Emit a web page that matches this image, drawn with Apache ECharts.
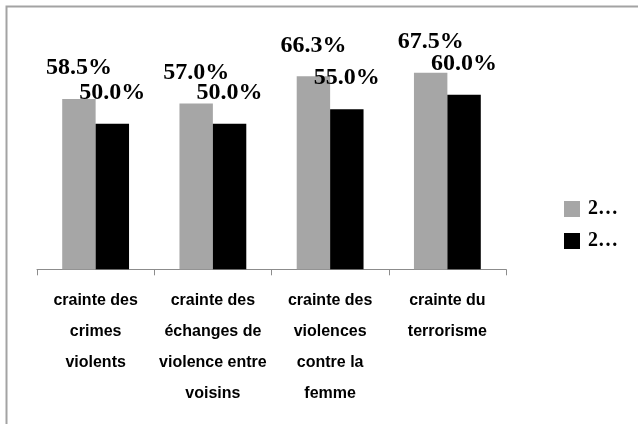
<!DOCTYPE html>
<html>
<head>
<meta charset="utf-8">
<script src="https://cdn.jsdelivr.net/npm/echarts@6/dist/echarts.min.js"></script>
<style>
  html, body { margin: 0; padding: 0; background: #fff; }
  #main { width: 638px; height: 424px; }
</style>
</head>
<body>
<div id="main"></div>
<script>
'use strict'
// categories and values
var categories = [
    'crainte des\ncrimes\nviolents',
    'crainte des\néchanges de\nviolence entre\nvoisins',
    'crainte des\nviolences\ncontre la\nfemme',
    'crainte du\nterrorisme'
];
var seriesNames = ['2…', '2… '];
var greyValues = [58.5, 57.0, 66.3, 67.5];
var blackValues = [50.0, 50.0, 55.0, 60.0];

var labelStyle = {
    show: true,
    position: 'top',
    distance: 19,
    fontFamily: 'Liberation Serif',
    fontWeight: 'bold',
    fontSize: 24,
    color: '#000',
    formatter: function (p) {
        return p.value.toFixed(1) + '%';
    }
};

var option = {
    animation: false,
    graphic: [
        {
            type: 'rect',
            shape: { x: 6.5, y: 6.5, width: 700, height: 700 },
            style: { fill: 'none', stroke: '#a3a3a3', lineWidth: 2 }
        }
    ],
    legend: {
        orient: 'vertical',
        left: 564,
        top: 199,
        padding: 0,
        itemWidth: 16,
        itemHeight: 16,
        itemGap: 12,
        icon: 'rect',
        data: seriesNames,
        textStyle: {
            fontFamily: 'Liberation Serif',
            fontWeight: 'bold',
            fontSize: 20,
            color: '#000',
            padding: [0, 0, 0, 3]
        }
    },
    grid: {
        left: 37,
        right: 132,
        top: 36.5,
        bottom: 154.7
    },
    xAxis: {
        type: 'category',
        data: categories,
        axisLine: { show: true, lineStyle: { color: '#8c8c8c', width: 1 } },
        axisTick: { show: true, alignWithLabel: false, length: 6, lineStyle: { color: '#8c8c8c', width: 1 } },
        axisLabel: {
            interval: 0,
            margin: 16,
            fontFamily: 'Liberation Sans',
            fontWeight: 'bold',
            fontSize: 16,
            lineHeight: 31,
            color: '#000'
        }
    },
    yAxis: {
        type: 'value',
        min: 0,
        max: 80,
        show: false
    },
    series: [
        {
            name: seriesNames[0],
            type: 'bar',
            barGap: 0,
            barCategoryGap: '43%',
            itemStyle: { color: '#a6a6a6' },
            label: labelStyle,
            data: greyValues
        },
        {
            name: seriesNames[1],
            type: 'bar',
            barGap: 0,
            barCategoryGap: '43%',
            itemStyle: { color: '#000000' },
            label: labelStyle,
            data: blackValues
        }
    ]
};

var myChart = echarts.init(document.getElementById('main'));
myChart.setOption(option);
</script>
</body>
</html>
